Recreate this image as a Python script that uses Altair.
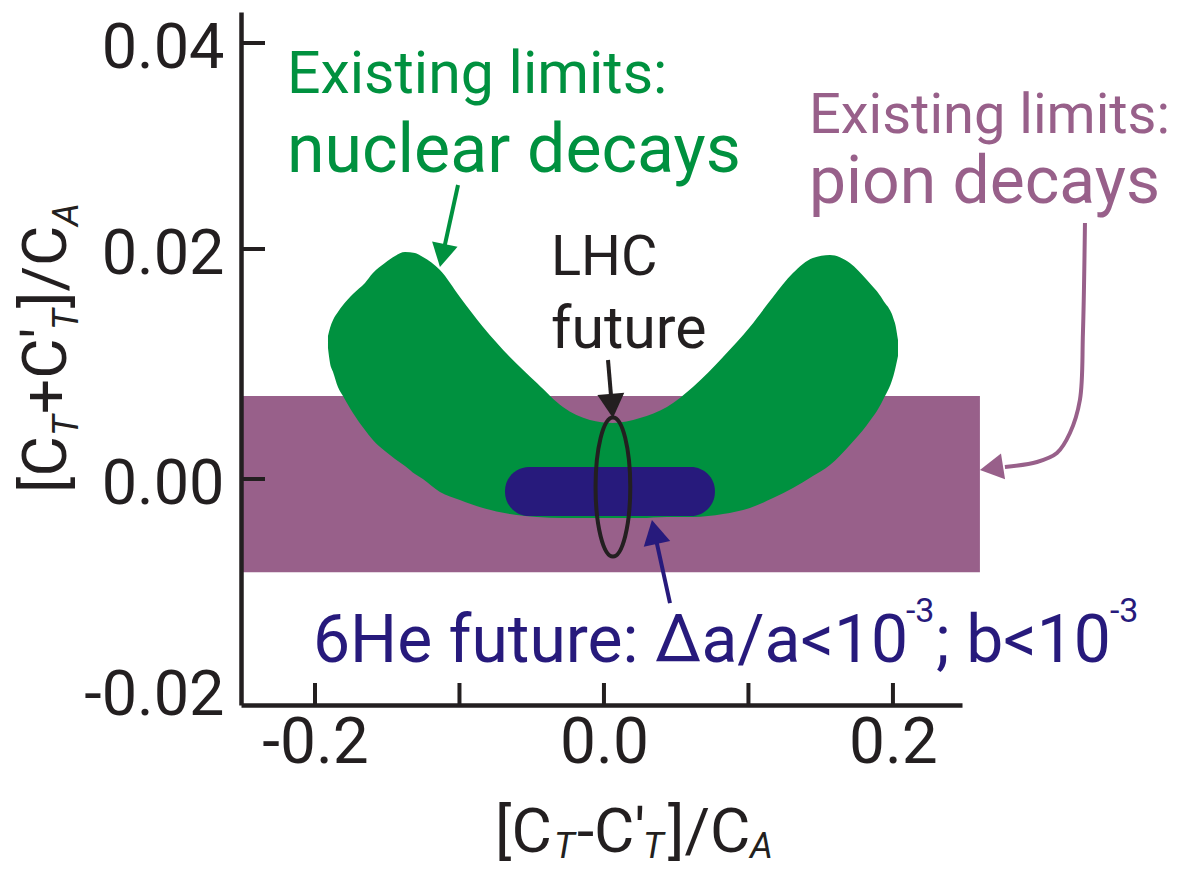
import altair as alt
import pandas as pd

# ---------------- values ----------------
# axis scale (hand-drawn axis: piecewise linear between the labelled ticks)
X_DOMAIN = [-0.2512, 0.2478]
Y_DOMAIN = [-0.0214, 0.0, 0.02, 0.04, 0.0430]
X_TICKS = [-0.2, -0.1, 0.0, 0.1, 0.2]
Y_TICKS = [0.0, 0.02, 0.04]
Y_LABELS = [-0.02, 0.0, 0.02, 0.04]

# green region: existing limits from nuclear decays (x, upper edge, lower edge)
green_x = [-0.1910, -0.1896, -0.1875, -0.1841, -0.1806, -0.1737, -0.1654, -0.1599,
           -0.1516, -0.1446, -0.1377, -0.1308, -0.1253, -0.1135, -0.0997, -0.0837,
           -0.0651, -0.0464, -0.0284, -0.0097, 0.0062, 0.0249, 0.0436, 0.0616,
           0.0824, 0.1010, 0.1170, 0.1308, 0.1446, 0.1564, 0.1702, 0.1820,
           0.1931, 0.2014, 0.2035]
green_top = [0.01243, 0.01313, 0.01383, 0.01452, 0.01513, 0.01609, 0.01704, 0.01791,
             0.01878, 0.01939, 0.01974, 0.01965, 0.01930, 0.01817, 0.01583, 0.01322,
             0.01061, 0.00835, 0.00626, 0.00513, 0.00487, 0.00530, 0.00626, 0.00800,
             0.01061, 0.01322, 0.01583, 0.01791, 0.01922, 0.01948, 0.01878, 0.01730,
             0.01557, 0.01357, 0.01209]
green_bottom = [0.01139, 0.01009, 0.00930, 0.00800, 0.00722, 0.00574, 0.00426, 0.00339,
                0.00243, 0.00174, 0.00113, 0.00043, 0.0, -0.00123, -0.00199, -0.00275,
                -0.00332, -0.00360, -0.00370, -0.00370, -0.00370, -0.00370, -0.00360, -0.00360,
                -0.00332, -0.00275, -0.00180, -0.00085, 0.00026, 0.00122, 0.00296, 0.00470,
                0.00687, 0.00948, 0.01070]

# purple band: existing limits from pion decays
pion_x = [-0.2512, 0.2602]
pion_y = [-0.00882, 0.00722]

# 6He future
he6_x = [-0.0685, 0.0768]
he6_y = [-0.00351, 0.00104]

# LHC future (ellipse centre)
lhc_x = [0.0062]
lhc_y = [-0.00076]

# arrows: shaft points and tip
green_arrow_x = [-0.1010, -0.1117]
green_arrow_y = [0.02621, 0.01945]
green_tip = [-0.1135, 0.01843]
black_arrow_x = [0.0028, 0.0055]
black_arrow_y = [0.01035, 0.00635]
black_tip = [0.0062, 0.00530]
blue_arrow_x = [0.0457, 0.0349]
blue_arrow_y = [-0.01175, -0.00500]
blue_tip = [0.0332, -0.00389]
purple_arrow_x = [0.3329, 0.3315, 0.3294, 0.3225, 0.3135, 0.2997, 0.2775]
purple_arrow_y = [0.02252, 0.01270, 0.00687, 0.00400, 0.00226, 0.00148, 0.00104]
purple_tip = [0.2602, 0.00078]

# annotation texts with their anchor (data units)
annot_text = ["Existing limits:", "nuclear decays", "Existing limits:", "pion decays",
              "LHC", "future", "6He future: \u0394a/a<10", "-3", "; b<10", "-3"]
annot_x = [-0.2194, -0.2194, 0.1419, 0.1419, -0.0367, -0.0367, -0.2014, 0.2090, 0.2297, 0.3502]
annot_y = [0.03515, 0.02748, 0.03126, 0.02447, 0.01774, 0.01139, -0.01735, -0.01355, -0.01735, -0.01355]

# axis titles split in pieces (main text / subscripts)
xt_text = ["[C", "T", "-C\u2032", "T", "]/C", "A"]
xt_x = [-0.0754, -0.0346, -0.0187, 0.0270, 0.0443, 0.1010]
xt_y = [-0.03536, -0.03592, -0.03536, -0.03592, -0.03536, -0.03592]
yt_text = ["[C", "T", "+C\u2032", "T", "]/C", "A"]
yt_x = [-0.3723, -0.3640, -0.3723, -0.3640, -0.3723, -0.3640]
yt_y = [-0.00133, 0.00374, 0.00565, 0.01296, 0.01487, 0.02223]

# ---------------- styling ----------------
GREEN = "#00913f"
PURPLE = "#98608a"
BLUE = "#271a7c"
BLACK = "#231f20"
FONT = "Roboto"

W, H = 721, 693
xs = alt.Scale(domain=X_DOMAIN, nice=False, zero=False)
ys = alt.Scale(domain=Y_DOMAIN, range=[693, 467, 237, 31, 0], nice=False, zero=False)

xaxis = alt.Axis(values=X_TICKS, ticks=False, grid=False, title=None, domainWidth=4.5,
                 domainColor=BLACK, labelFont=FONT, labelFontSize=64, labelColor=BLACK,
                 labelPadding=6, labelFlush=False, labelOverlap=False, zindex=1,
                 labelExpr="abs(datum.value) < 0.05 ? '0.0' : (datum.value > 0.15 ? '0.2' : (datum.value < -0.15 ? '-0.2' : ''))")
yaxis = alt.Axis(values=Y_LABELS, ticks=False, grid=False, title=None, domainWidth=4.5,
                 domainColor=BLACK, labelFont=FONT, labelFontSize=63, labelColor=BLACK,
                 labelPadding=17, labelOffset=5, labelFlush=False, labelOverlap=False, zindex=1,
                 labelExpr="datum.value < -0.001 ? '-' + format(-datum.value, '.2f') : format(abs(datum.value), '.2f')")


def X(f):
    return alt.X(f, type="quantitative", scale=xs, axis=xaxis)


def Y(f):
    return alt.Y(f, type="quantitative", scale=ys, axis=yaxis)


pion_df = pd.DataFrame({"x": [pion_x[0]], "x2": [pion_x[1]], "y": [pion_y[0]], "y2": [pion_y[1]]})
pion = alt.Chart(pion_df).mark_rect(color=PURPLE).encode(
    x=X("x"), x2="x2", y=Y("y"), y2="y2")

green_df = pd.DataFrame({"x": green_x, "top": green_top, "bottom": green_bottom})
green = alt.Chart(green_df).mark_area(color=GREEN, interpolate="monotone", opacity=1).encode(
    x=X("x"), y=Y("bottom"), y2="top")

he6_df = pd.DataFrame({"x": [he6_x[0]], "x2": [he6_x[1]], "y": [he6_y[0]], "y2": [he6_y[1]]})
he6 = alt.Chart(he6_df).mark_rect(color=BLUE, cornerRadius=24).encode(
    x=X("x"), x2="x2", y=Y("y"), y2="y2")

ELLIPSE = ("M0,-1 C0.138,-1 0.25,-0.552 0.25,0 C0.25,0.552 0.138,1 0,1 "
           "C-0.138,1 -0.25,0.552 -0.25,0 C-0.25,-0.552 -0.138,-1 0,-1 Z")
lhc = alt.Chart(pd.DataFrame({"x": lhc_x, "y": lhc_y})).mark_point(
    shape=ELLIPSE, size=139 ** 2, filled=False, strokeWidth=4, color=BLACK, opacity=1
).encode(x=X("x"), y=Y("y"))

# tick marks pointing inwards
xticks = alt.Chart(pd.DataFrame({"x": X_TICKS})).mark_rule(color=BLACK, strokeWidth=4).encode(
    x=X("x"), y=alt.value(H), y2=alt.value(H - 22))
yticks = alt.Chart(pd.DataFrame({"y": Y_TICKS})).mark_rule(color=BLACK, strokeWidth=4).encode(
    y=Y("y"), x=alt.value(0), x2=alt.value(24))

HEAD = "M0,0 L1,1.8 L-1,1.8 Z"


def arrow(xv, yv, tip, angle, color, interp="linear", head=26):
    df = pd.DataFrame({"x": xv, "y": yv, "i": list(range(len(xv)))})
    shaft = alt.Chart(df).mark_line(color=color, strokeWidth=4, interpolate=interp).encode(
        x=X("x"), y=Y("y"), order="i:O")
    hd = alt.Chart(pd.DataFrame({"x": [tip[0]], "y": [tip[1]]})).mark_point(
        shape=HEAD, size=head ** 2, filled=True, color=color, opacity=1, angle=angle, strokeWidth=0
    ).encode(x=X("x"), y=Y("y"))
    return [shaft, hd]


arrows = []
arrows += arrow(green_arrow_x, green_arrow_y, green_tip, 192, GREEN)
arrows += arrow(black_arrow_x, black_arrow_y, black_tip, 175, BLACK, head=27)
arrows += arrow(blue_arrow_x, blue_arrow_y, blue_tip, 348, BLUE, head=27)
arrows += arrow(purple_arrow_x, purple_arrow_y, purple_tip, 261, PURPLE, interp="catmull-rom", head=26)

annot_size = [59, 68, 56, 66, 56, 59, 66, 34, 66, 34]
annot_color = [GREEN, GREEN, PURPLE, PURPLE, BLACK, BLACK, BLUE, BLUE, BLUE, BLUE]


def txt(t, x, y, size, color, style="normal", angle=0):
    df = pd.DataFrame({"x": [x], "y": [y], "t": [t]})
    return alt.Chart(df).mark_text(align="left", baseline="alphabetic", font=FONT,
                                   fontSize=size, fontStyle=style, color=color,
                                   angle=angle).encode(x=X("x"), y=Y("y"), text="t:N")


texts = [txt(t, x, y, s, c) for t, x, y, s, c in
         zip(annot_text, annot_x, annot_y, annot_size, annot_color)]

for i, (t, x, y) in enumerate(zip(xt_text, xt_x, xt_y)):
    sub = i % 2 == 1
    texts.append(txt(t, x, y, 36 if sub else 62, BLACK, "italic" if sub else "normal"))
for i, (t, x, y) in enumerate(zip(yt_text, yt_x, yt_y)):
    sub = i % 2 == 1
    texts.append(txt(t, x, y, 36 if sub else 62, BLACK, "italic" if sub else "normal", angle=270))

chart = alt.layer(pion, green, he6, lhc, xticks, yticks, *arrows, *texts).properties(
    width=W, height=H,
    padding={"left": 233, "top": 4, "right": 216, "bottom": 161},
    autosize=alt.AutoSizeParams(type="none"),
).configure(background="white").configure_view(stroke=None)

chart.save("out.html", embed_options={"renderer": "svg", "actions": False})
